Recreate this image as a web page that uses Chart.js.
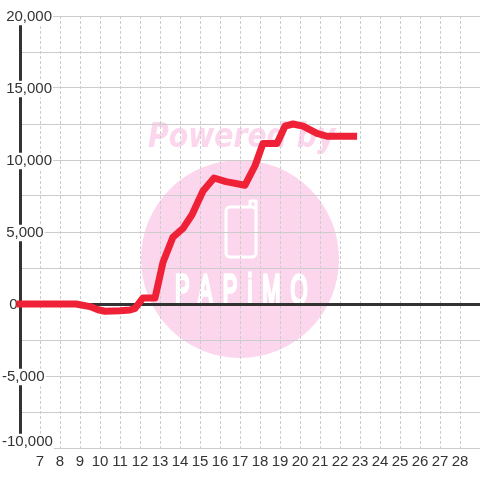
<!DOCTYPE html>
<html>
<head>
<meta charset="utf-8">
<style>
html, body { margin: 0; padding: 0; background: #fff; }
canvas { display: block; }
</style>
<script src="https://cdn.jsdelivr.net/npm/chart.js@4"></script>
</head>
<body>
<div style="width:480px;height:480px"><canvas id="chart" width="480" height="480"></canvas></div>
<script>
const hourTicks = [7, 8, 9, 10, 11, 12, 13, 14, 15, 16, 17, 18, 19, 20, 21, 22, 23, 24, 25, 26, 27, 28];
const hours = [6, 7, 8, 8.8, 9.5, 9.9, 10.25, 11, 11.5, 11.75, 12.15, 12.75, 13.15, 13.65, 14.15, 14.6, 15.15, 15.7, 16.3, 17.25, 17.75, 18.15, 18.85, 19.25, 19.65, 20.15, 20.85, 21.35, 22.68];
const values = [0, 0, 0, 0, -180, -400, -500, -470, -420, -300, 420, 420, 2900, 4650, 5250, 6200, 7850, 8750, 8500, 8250, 9600, 11150, 11150, 12350, 12500, 12350, 11850, 11650, 11650];

// watermark behind the grid
const watermark = {
    id: 'watermark',
    beforeDraw(chart) {
        // bottom label sits a bit above its grid line in the original
        const items = chart.scales.y.getLabelItems(chart.chartArea);
        items.forEach(it => {
            if (it.label === '-10,000') it.options.translation[1] -= 7;
        });

        const c = chart.ctx;
        c.save();
        c.fillStyle = '#fbd6ec';
        c.beginPath();
        c.arc(240, 259, 99, 0, Math.PI * 2);
        c.fill();

        c.save();
        c.font = 'italic bold 28px "DejaVu Sans"';
        c.textBaseline = 'alphabetic';
        c.translate(148, 147);
        c.scale(1.01, 1.2);
        c.fillText('Powered by', 0, 0);
        c.restore();

        c.strokeStyle = '#fff';
        c.lineWidth = 3;
        c.lineJoin = 'round';
        c.beginPath();
        c.roundRect(226, 207, 30, 50, 4);
        c.moveTo(250, 207);
        c.lineTo(250, 201);
        c.lineTo(256, 201);
        c.lineTo(256, 212);
        c.stroke();

        c.fillStyle = '#fff';
        c.font = '22px "Liberation Sans"';
        c.translate(175, 304);
        c.scale(1, 1.9);
        c.letterSpacing = '10px';
        c.lineWidth = 1.8;
        c.fillText('PAPiMO', 0, 0);
        c.strokeText('PAPiMO', 0, 0);
        c.restore();
    }
};

new Chart(document.getElementById('chart'), {
    type: 'line',
    data: {
        datasets: [{
            data: hours.map((h, i) => ({ x: h, y: values[i] })),
            borderColor: '#ef2136',
            borderWidth: 7,
            borderCapStyle: 'square',
            borderJoinStyle: 'round',
            pointRadius: 0,
            tension: 0,
            clip: false
        }]
    },
    options: {
        responsive: false,
        animation: false,
        layout: { padding: { top: 16, left: 0, right: 0, bottom: 0 } },
        plugins: { legend: { display: false }, tooltip: { enabled: false } },
        scales: {
            x: {
                type: 'linear',
                min: 6,
                max: 29,
                afterBuildTicks: s => { s.ticks = hourTicks.map(v => ({ value: v })); },
                afterFit: s => { s.height = 32; },
                grid: { color: '#ccc', lineWidth: 1, drawTicks: false },
                border: { display: false, dash: [3, 2] },
                ticks: {
                    autoSkip: false,
                    maxRotation: 0,
                    padding: 6,
                    color: '#333',
                    font: { family: '"Liberation Sans"', size: 15, lineHeight: 1.1 },
                    callback: v => String(v)
                }
            },
            y: {
                min: -10000,
                max: 20000,
                afterFit: s => { s.width = 20; },
                grid: {
                    drawTicks: false,
                    color: c => c.tick && c.tick.value === 0 ? '#333' : '#ccc',
                    lineWidth: c => c.tick && c.tick.value === 0 ? 3 : 1
                },
                border: { color: '#333', width: 3 },
                ticks: {
                    stepSize: 2500,
                    mirror: true,
                    padding: -18,
                    labelOffset: 1,
                    color: '#333',
                    font: { family: '"Liberation Sans"', size: 15, lineHeight: 1.1 },
                    showLabelBackdrop: c => c.tick.value % 5000 === 0,
                    backdropColor: '#fff',
                    backdropPadding: { top: 0, bottom: 0, left: 0, right: 1 },
                    callback: v => {
                        if (v % 5000 !== 0) return '';
                        const s = v.toLocaleString('en-US');
                        if (v === 0) return '\u00a0\u2009' + s;
                        return v < 0 ? s : '\u00a0' + s;
                    }
                }
            }
        }
    },
    plugins: [watermark]
});
</script>
</body>
</html>
